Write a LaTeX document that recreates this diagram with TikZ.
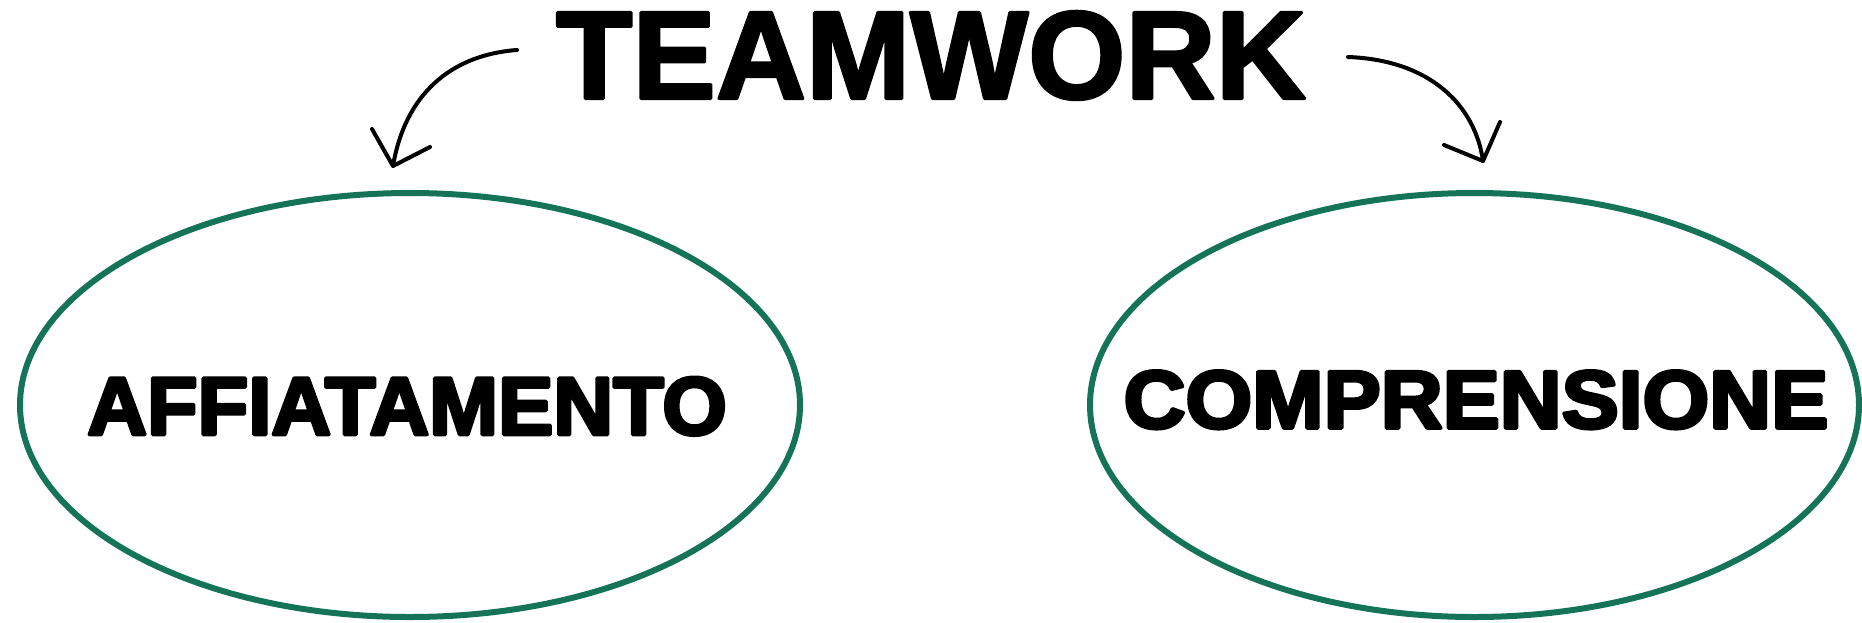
\documentclass[tikz,border=0pt]{standalone}
\usepackage{fontspec}
\setmainfont{Liberation Sans}
\usetikzlibrary{shapes.geometric}
\definecolor{ringgreen}{RGB}{21,115,88}
\newcommand{\outlined}[2]{\special{pdf:literal direct 1 j 1 J 0 G #1 w 2 Tr}#2\special{pdf:literal direct 0 Tr}}
\begin{document}
\begin{tikzpicture}[x=1pt,y=-1pt,
  ring/.style={ellipse, draw=ringgreen, line width=6pt, inner sep=0pt},
  word/.style={inner sep=0pt, anchor=base, font=\fontsize{82}{82}\selectfont\bfseries},
  title/.style={inner sep=0pt, anchor=base, font=\fontsize{125}{125}\selectfont\bfseries},
  swoosh/.style={line width=4pt, line cap=round, line join=round}]
\useasboundingbox (0,0) rectangle (1862,622);
\node[title] (team) at (931,98.5) {\outlined{3}{TEAMWORK}};
\node[ring, minimum width=780pt, minimum height=424pt] (affring) at (410,405) {};
\node[ring, minimum width=769pt, minimum height=424pt] (compring) at (1474.5,405) {};
\node[word] (aff) at (407,434.5) {\scalebox{1.01}[1]{\outlined{3.5}{AFFIATAMENTO}}};
\node[word] (comp) at (1476,428) {\scalebox{1.045}[1]{\outlined{3.5}{COMPRENSIONE}}};
% left arrow
\coordinate (lstart) at (517,50);
\coordinate (ltip) at (393,166);
\coordinate (larmA) at (372,129);
\coordinate (larmB) at (430,147);
\draw[swoosh] (lstart) .. controls (450,55) and (405,95) .. (ltip);
\draw[swoosh] (larmA) -- (ltip) -- (larmB);
% right arrow
\coordinate (rstart) at (1348,57);
\coordinate (rtip) at (1483,161);
\coordinate (rarmA) at (1444,145);
\coordinate (rarmB) at (1500,122);
\draw[swoosh] (rstart) .. controls (1430,60) and (1475,105) .. (rtip);
\draw[swoosh] (rarmA) -- (rtip) -- (rarmB);
\end{tikzpicture}
\end{document}
